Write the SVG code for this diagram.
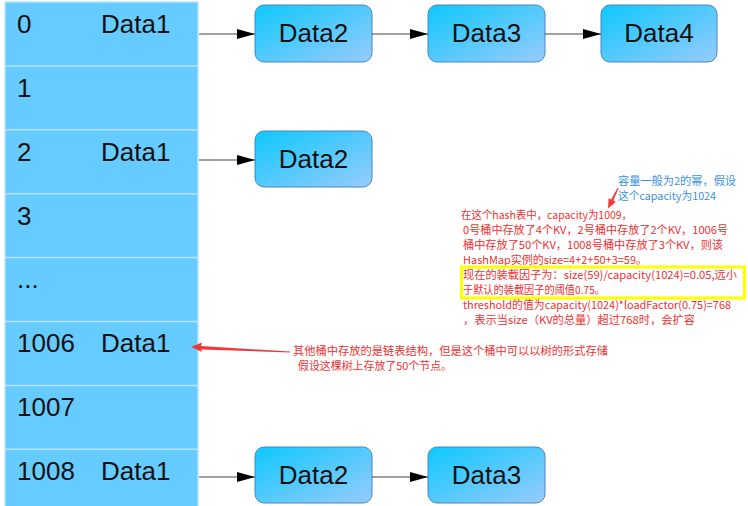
<svg xmlns="http://www.w3.org/2000/svg" width="748" height="506" viewBox="0 0 748 506">
<defs>
<linearGradient id="boxg" x1="0" y1="0" x2="1" y2="1">
<stop offset="0" stop-color="#0ec8fd"/>
<stop offset="1" stop-color="#98cbfd"/>
</linearGradient>
<marker id="ah" markerWidth="18" markerHeight="12" refX="18" refY="6" orient="auto" markerUnits="userSpaceOnUse">
<path d="M0,1 L18,6 L0,11 Z" fill="#000"/>
</marker>
<style>
.row{fill:#66ccff;}
.sep{stroke:#b5e4ff;stroke-width:1.5;}
.lbl{font-family:"Liberation Sans",Arial,sans-serif;font-size:26px;fill:#111;}
.box{fill:url(#boxg);stroke:#4a86c0;stroke-width:1;}
.bt{font-family:"Liberation Sans",Arial,sans-serif;font-size:26px;fill:#111;text-anchor:middle;}
.con{stroke:#444;stroke-width:1.2;fill:none;marker-end:url(#ah);}
.red{font-family:"Noto Sans CJK SC",sans-serif;font-size:11px;fill:#f23030;}
.blue{font-family:"Noto Sans CJK SC",sans-serif;font-size:11px;fill:#3a8fe6;}
</style>
</defs>
<rect width="748" height="506" fill="#ffffff"/>

<g id="table">
<rect class="row" x="5" y="2" width="193" height="504"/>
<line class="sep" x1="5" y1="2" x2="198" y2="2"/>
<line class="sep" x1="5" y1="65.9" x2="198" y2="65.9"/>
<line class="sep" x1="5" y1="129.8" x2="198" y2="129.8"/>
<line class="sep" x1="5" y1="193.7" x2="198" y2="193.7"/>
<line class="sep" x1="5" y1="257.6" x2="198" y2="257.6"/>
<line class="sep" x1="5" y1="321.5" x2="198" y2="321.5"/>
<line class="sep" x1="5" y1="385.4" x2="198" y2="385.4"/>
<line class="sep" x1="5" y1="449.3" x2="198" y2="449.3"/>
<line class="sep" x1="5" y1="2" x2="5" y2="506"/>
<line class="sep" x1="198" y1="2" x2="198" y2="506"/>
</g>

<g id="row0"><text class="lbl" x="17" y="33">0</text><text class="lbl" x="101" y="33">Data1</text></g>
<g id="row1"><text class="lbl" x="17" y="97">1</text></g>
<g id="row2"><text class="lbl" x="17" y="161">2</text><text class="lbl" x="101" y="161">Data1</text></g>
<g id="row3"><text class="lbl" x="17" y="225">3</text></g>
<g id="rowdots"><text class="lbl" x="17" y="288">...</text></g>
<g id="row1006"><text class="lbl" x="17" y="352">1006</text><text class="lbl" x="101" y="352">Data1</text></g>
<g id="row1007"><text class="lbl" x="17" y="416">1007</text></g>
<g id="row1008"><text class="lbl" x="17" y="480">1008</text><text class="lbl" x="101" y="480">Data1</text></g>

<g id="n0_2"><rect class="box" x="255" y="5" width="117" height="57" rx="9"/><text class="bt" x="313.5" y="42">Data2</text></g>
<g id="n0_3"><rect class="box" x="428" y="5" width="117" height="57" rx="9"/><text class="bt" x="486.5" y="42">Data3</text></g>
<g id="n0_4"><rect class="box" x="601" y="5" width="116" height="57" rx="9"/><text class="bt" x="659" y="42">Data4</text></g>
<g id="n2_2"><rect class="box" x="255" y="131" width="117" height="56" rx="9"/><text class="bt" x="313.5" y="168">Data2</text></g>
<g id="n8_2"><rect class="box" x="255" y="447" width="117" height="56" rx="9"/><text class="bt" x="313.5" y="484">Data2</text></g>
<g id="n8_3"><rect class="box" x="428" y="447" width="117" height="56" rx="9"/><text class="bt" x="486.5" y="484">Data3</text></g>

<g id="connectors">
<line class="con" x1="199" y1="34" x2="255" y2="34"/>
<line class="con" x1="372" y1="34" x2="428" y2="34"/>
<line class="con" x1="545" y1="34" x2="601" y2="34"/>
<line class="con" x1="199" y1="160" x2="255" y2="160"/>
<line class="con" x1="199" y1="477" x2="255" y2="477"/>
<line class="con" x1="372" y1="477" x2="428" y2="477"/>
</g>

<g id="annotations">
<polygon fill="#f03a3a" points="618.6,188.2 613.4,200.6 615.8,202 608,208.5 608.6,198.2 611.2,199.4 617.6,187.8"/>
<text class="blue" x="618" y="185" textLength="118" lengthAdjust="spacingAndGlyphs">容量一般为2的幂，假设</text>
<text class="blue" x="618" y="200" textLength="98" lengthAdjust="spacingAndGlyphs">这个capacity为1024</text>

<text class="red" x="461" y="219" textLength="171" lengthAdjust="spacingAndGlyphs">在这个hash表中，capacity为1009，</text>
<text class="red" x="463" y="234" textLength="265" lengthAdjust="spacingAndGlyphs">0号桶中存放了4个KV，2号桶中存放了2个KV，1006号</text>
<text class="red" x="463" y="248.5" textLength="260" lengthAdjust="spacingAndGlyphs">桶中存放了50个KV，1008号桶中存放了3个KV，则该</text>
<text class="red" x="463" y="263.5" textLength="184" lengthAdjust="spacingAndGlyphs">HashMap实例的size=4+2+50+3=59。</text>
<rect x="461.5" y="267" width="283" height="31" fill="none" stroke="#ffff00" stroke-width="3"/>
<text class="red" x="463" y="279" textLength="274" lengthAdjust="spacingAndGlyphs">现在的装载因子为：size(59)/capacity(1024)=0.05,远小</text>
<text class="red" x="463" y="294" textLength="142" lengthAdjust="spacingAndGlyphs">于默认的装载因子的阈值0.75。</text>
<text class="red" x="463" y="309" textLength="268" lengthAdjust="spacingAndGlyphs">threshold的值为capacity(1024)*loadFactor(0.75)=768</text>
<text class="red" x="463" y="324" textLength="232" lengthAdjust="spacingAndGlyphs">，表示当size（KV的总量）超过768时，会扩容</text>

<polygon fill="#f03a3a" points="191,347 202,342.6 201.2,346 290,351.6 290,352.4 201.2,349.4 202,352"/>
<text class="red" x="293" y="355" textLength="315" lengthAdjust="spacingAndGlyphs">其他桶中存放的是链表结构，但是这个桶中可以以树的形式存储</text>
<text class="red" x="298" y="370" textLength="154" lengthAdjust="spacingAndGlyphs">假设这棵树上存放了50个节点。</text>
</g>
</svg>
